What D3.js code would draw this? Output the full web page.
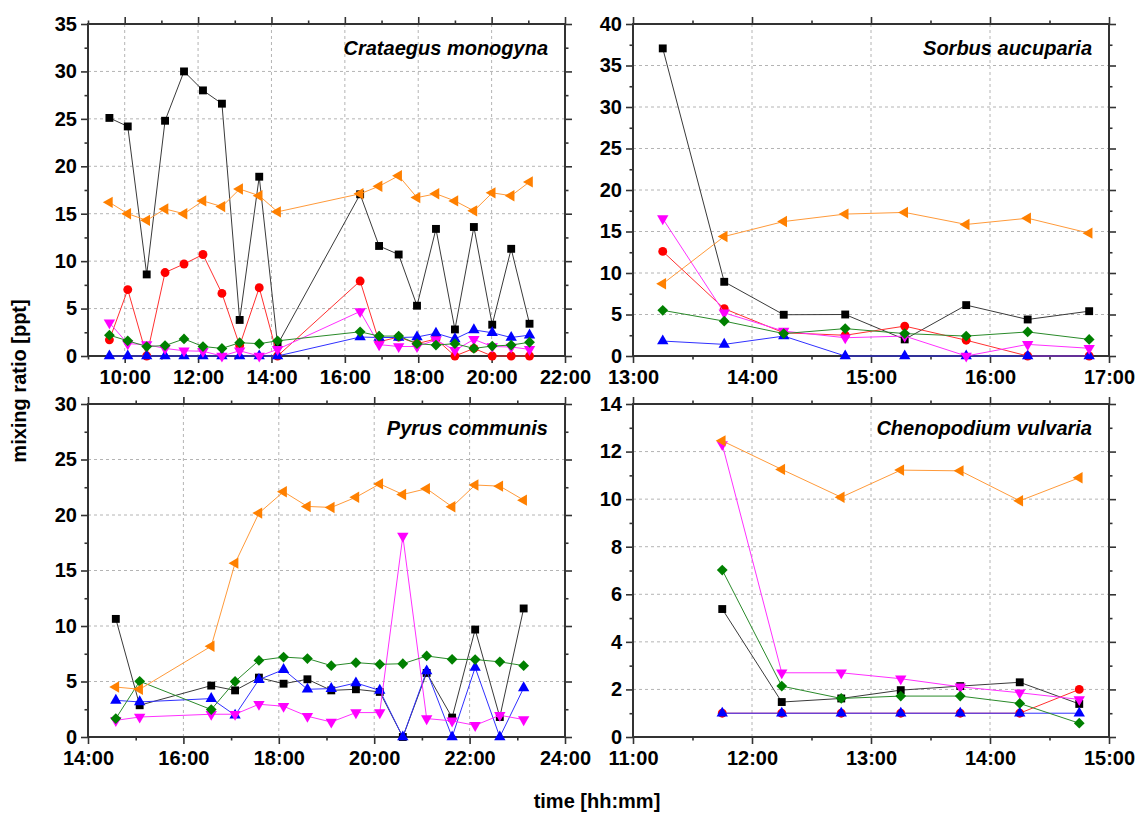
<!DOCTYPE html>
<html>
<head>
<meta charset="utf-8">
<script src="https://cdn.jsdelivr.net/npm/d3@7"></script>
<style>
  body { margin: 0; background: #fff; }
  text { font-family: "Liberation Sans", Arial, sans-serif; font-weight: bold; }
</style>
</head>
<body>
<svg id="chart" width="1135" height="813"></svg>
<script>
// ---- Crataegus monogyna ----
const cmTimes    = ["09:35","10:05","10:36","11:06","11:37","12:08","12:39","13:08","13:40","14:10","16:25","16:56","17:28","17:58","18:29","19:00","19:31","20:01","20:32","21:02"];
const cmSquare   = [25.1,24.2,8.6,24.8,30.0,28.0,26.6,3.8,18.9,1.2,17.05,11.6,10.7,5.3,13.4,2.8,13.6,3.3,11.3,3.4];
const cmCircle   = [1.7,7.0,0,8.8,9.7,10.7,6.6,1.1,7.2,0,7.9,1.5,2.0,1.3,1.8,0,0.8,0,0,0];
const cmTriUp    = [0,0,0,0,0,0,0,0,0,0,2.0,1.95,1.95,2.0,2.4,1.8,2.75,2.45,1.95,2.2];
const cmTriDown  = [3.5,1.3,1.2,0.8,0.55,0.5,0,0.55,0,0.7,4.7,1.2,1.0,1.0,1.7,0.6,1.75,1.0,0.95,0.7];
const cmDiamond  = [2.2,1.6,1.0,1.1,1.8,1.0,0.8,1.4,1.3,1.6,2.55,2.1,2.1,1.3,1.15,1.3,0.8,1.05,1.15,1.45];
const cmTriLeft  = [16.2,15.0,14.3,15.5,15.0,16.35,15.75,17.6,16.9,15.2,17.1,17.9,19.0,16.7,17.1,16.35,15.3,17.2,16.9,18.35];

// ---- Sorbus aucuparia ----
const saTimes    = ["13:15","13:46","14:16","14:47","15:17","15:48","16:19","16:50"];
const saSquare   = [37.06,8.94,4.97,5.0,2.0,6.13,4.4,5.4];
const saCircle   = [12.6,5.7,2.8,2.5,3.6,1.9,0,0];
const saTriUp    = [1.8,1.4,2.4,0,0,0,0,0];
const saTriDown  = [16.55,5.2,3.0,2.2,2.4,0,1.4,0.93];
const saDiamond  = [5.5,4.2,2.7,3.3,2.7,2.4,2.9,2.0];
const saTriLeft  = [8.7,14.4,16.2,17.1,17.3,15.85,16.6,14.8];

// ---- Pyrus communis ----
const pcTimes    = ["14:35","15:05","16:35","17:05","17:35","18:06","18:36","19:06","19:37","20:07","20:36","21:06","21:38","22:07","22:38","23:08"];
const pcSquare   = [10.64,2.86,4.63,4.2,5.35,4.8,5.2,4.2,4.3,4.06,0,5.77,1.75,9.68,1.8,11.58];
const pcTriUp    = [3.3,3.16,3.46,1.96,5.17,6.07,4.3,4.36,4.87,4.2,0,5.95,0,6.26,0,4.42];
const pcTriDown  = [1.5,1.8,2.05,2.05,2.95,2.77,1.87,1.35,2.2,2.2,18.1,1.66,1.45,1.05,1.96,1.57];
const pcDiamond  = [1.66,5.02,2.47,5.0,6.9,7.2,7.07,6.43,6.7,6.55,6.6,7.3,7.0,6.98,6.77,6.43];
const pcTriLeft  = [4.5,4.3,8.18,15.66,20.17,22.1,20.77,20.68,21.6,22.8,21.85,22.37,20.74,22.7,22.6,21.34];

// ---- Chenopodium vulvaria ----
const cvTimes    = ["11:45","12:15","12:45","13:15","13:45","14:15","14:45"];
const cvSquare   = [5.38,1.47,1.62,1.97,2.14,2.3,1.39];
const cvCircle   = [1,1,1,1,1,1,2.0];
const cvTriUp    = [1,1,1,1,1,1,1];
const cvTriDown  = [12.3,2.7,2.7,2.45,2.11,1.86,1.58];
const cvDiamond  = [7.02,2.14,1.62,1.72,1.72,1.41,0.58];
const cvTriLeft  = [12.45,11.25,10.08,11.22,11.19,9.93,10.9];

// Axis ranges (hours on x, ppt on y)
const cmXDomain = [9, 22],  cmYDomain = [0, 35];
const saXDomain = [13, 17], saYDomain = [0, 40];
const pcXDomain = [14, 24], pcYDomain = [0, 30];
const cvXDomain = [11, 15], cvYDomain = [0, 14];

// Marker / line styles per series
const styles = {
  square:   { fill: "#000000", line: "#3a3a3a", symbol: d3.symbolSquare,   size: 62, rotate: 0 },
  circle:   { fill: "#ff0000", line: "#ff3030", symbol: d3.symbolCircle,   size: 62, rotate: 0 },
  triUp:    { fill: "#0000ff", line: "#3030ff", symbol: d3.symbolTriangle, size: 56, rotate: 0 },
  triDown:  { fill: "#ff00ff", line: "#ff30ff", symbol: d3.symbolTriangle, size: 56, rotate: 180 },
  diamond:  { fill: "#008000", line: "#2a8a2a", symbol: d3.symbolSquare,   size: 58, rotate: 45 },
  triLeft:  { fill: "#ff8000", line: "#ff9a3a", symbol: d3.symbolTriangle, size: 56, rotate: -90 }
};

const parseHours = s => { const [h, m] = s.split(":").map(Number); return h + m / 60; };

const panels = [
  { title: "Crataegus monogyna", left: 88,  right: 565,  top: 24,  bottom: 356,
    xDomain: cmXDomain, xMajor: 2, xMinor: 1, xFirstLabel: 10,
    yDomain: cmYDomain, yMajor: 5, yMinor: 2.5, times: cmTimes,
    series: [["square", cmSquare], ["circle", cmCircle], ["triUp", cmTriUp], ["triDown", cmTriDown], ["diamond", cmDiamond], ["triLeft", cmTriLeft]] },
  { title: "Sorbus aucuparia", left: 633, right: 1109, top: 24, bottom: 356,
    xDomain: saXDomain, xMajor: 1, xMinor: 0.5, xFirstLabel: 13,
    yDomain: saYDomain, yMajor: 5, yMinor: 2.5, times: saTimes,
    series: [["square", saSquare], ["circle", saCircle], ["triUp", saTriUp], ["triDown", saTriDown], ["diamond", saDiamond], ["triLeft", saTriLeft]] },
  { title: "Pyrus communis", left: 88, right: 565, top: 404, bottom: 737,
    xDomain: pcXDomain, xMajor: 2, xMinor: 1, xFirstLabel: 14,
    yDomain: pcYDomain, yMajor: 5, yMinor: 2.5, times: pcTimes,
    series: [["square", pcSquare], ["triUp", pcTriUp], ["triDown", pcTriDown], ["diamond", pcDiamond], ["triLeft", pcTriLeft]] },
  { title: "Chenopodium vulvaria", left: 633, right: 1109, top: 404, bottom: 737,
    xDomain: cvXDomain, xMajor: 1, xMinor: 0.5, xFirstLabel: 11,
    yDomain: cvYDomain, yMajor: 2, yMinor: 1, times: cvTimes,
    series: [["square", cvSquare], ["circle", cvCircle], ["triUp", cvTriUp], ["triDown", cvTriDown], ["diamond", cvDiamond], ["triLeft", cvTriLeft]] }
];

const svg = d3.select("#chart");
svg.append("rect").attr("width", 1135).attr("height", 813).attr("fill", "#fff");

const AXIS = "#333";
const FONT = 20;

function stepRange(lo, hi, step) {
  const n = Math.round((hi - lo) / step);
  return d3.range(n + 1).map(i => +(lo + i * step).toFixed(4));
}

function drawPanel(p) {
  const g = svg.append("g");
  const x = d3.scaleLinear().domain(p.xDomain).range([p.left, p.right]);
  const y = d3.scaleLinear().domain(p.yDomain).range([p.bottom, p.top]);

  const xMajorTicks = stepRange(p.xFirstLabel, p.xDomain[1], p.xMajor);
  const xMinorTicks = stepRange(p.xDomain[0], p.xDomain[1], p.xMinor).filter(v => !xMajorTicks.includes(v));
  const yMajorTicks = stepRange(p.yDomain[0], p.yDomain[1], p.yMajor);
  const yMinorTicks = stepRange(p.yDomain[0], p.yDomain[1], p.yMinor).filter(v => !yMajorTicks.includes(v));

  // dashed grid at interior major ticks
  const grid = g.append("g").attr("stroke", "#b4b4b4").attr("stroke-width", 1).attr("stroke-dasharray", "3,3");
  grid.selectAll("line.gx").data(xMajorTicks.filter(v => v > p.xDomain[0] && v < p.xDomain[1]))
    .join("line").attr("x1", d => x(d)).attr("x2", d => x(d)).attr("y1", p.top).attr("y2", p.bottom);
  grid.selectAll("line.gy").data(yMajorTicks.filter(v => v > p.yDomain[0] && v < p.yDomain[1]))
    .join("line").attr("y1", d => y(d)).attr("y2", d => y(d)).attr("x1", p.left).attr("x2", p.right);

  const fmt = v => String(Math.round(v)).padStart(2, "0") + ":00";

  const styleAxis = sel => {
    sel.select(".domain").remove();
    sel.selectAll("line").attr("stroke", AXIS).attr("stroke-width", 1.6);
    sel.selectAll("text").attr("fill", "#000").style("font-size", FONT + "px").style("font-weight", "bold");
  };

  // bottom axis with labels
  g.append("g").attr("transform", `translate(0,${p.bottom})`)
    .call(d3.axisBottom(x).tickValues(xMajorTicks).tickFormat(fmt).tickSize(7).tickPadding(7)).call(styleAxis);
  g.append("g").attr("transform", `translate(0,${p.bottom})`)
    .call(d3.axisBottom(x).tickValues(xMinorTicks).tickFormat("").tickSize(3.5)).call(styleAxis);
  // top axis ticks only
  g.append("g").attr("transform", `translate(0,${p.top})`)
    .call(d3.axisTop(x).tickValues(xMajorTicks).tickFormat("").tickSize(7)).call(styleAxis);
  g.append("g").attr("transform", `translate(0,${p.top})`)
    .call(d3.axisTop(x).tickValues(xMinorTicks).tickFormat("").tickSize(3.5)).call(styleAxis);
  // left axis with labels
  g.append("g").attr("transform", `translate(${p.left},0)`)
    .call(d3.axisLeft(y).tickValues(yMajorTicks).tickFormat(d3.format("d")).tickSize(7).tickPadding(4)).call(styleAxis);
  g.append("g").attr("transform", `translate(${p.left},0)`)
    .call(d3.axisLeft(y).tickValues(yMinorTicks).tickFormat("").tickSize(3.5)).call(styleAxis);
  // right axis ticks only
  g.append("g").attr("transform", `translate(${p.right},0)`)
    .call(d3.axisRight(y).tickValues(yMajorTicks).tickFormat("").tickSize(7)).call(styleAxis);
  g.append("g").attr("transform", `translate(${p.right},0)`)
    .call(d3.axisRight(y).tickValues(yMinorTicks).tickFormat("").tickSize(3.5)).call(styleAxis);

  // frame
  g.append("rect").attr("x", p.left).attr("y", p.top)
    .attr("width", p.right - p.left).attr("height", p.bottom - p.top)
    .attr("fill", "none").attr("stroke", AXIS).attr("stroke-width", 2);

  // series: line then markers
  const hours = p.times.map(parseHours);
  const line = d3.line().x(d => x(d[0])).y(d => y(d[1]));
  p.series.forEach(([key, values]) => {
    const st = styles[key];
    const pts = values.map((v, i) => [hours[i], v]);
    g.append("path").datum(pts).attr("d", line)
      .attr("fill", "none").attr("stroke", st.line).attr("stroke-width", 1);
    const sym = d3.symbol().type(st.symbol).size(st.size);
    g.append("g").selectAll("path").data(pts).join("path")
      .attr("d", sym)
      .attr("transform", d => `translate(${x(d[0])},${y(d[1])}) rotate(${st.rotate})`)
      .attr("fill", st.fill);
  });

  // species title
  g.append("text").attr("x", p.right - 17).attr("y", p.top + 31)
    .attr("text-anchor", "end").style("font-size", FONT + "px").style("font-style", "italic")
    .text(p.title);
}

panels.forEach(drawPanel);

// shared axis titles
svg.append("text").attr("x", 597).attr("y", 808).attr("text-anchor", "middle")
  .style("font-size", FONT + "px").text("time [hh:mm]");
svg.append("text").attr("transform", "translate(26,381) rotate(-90)").attr("text-anchor", "middle")
  .style("font-size", FONT + "px").text("mixing ratio [ppt]");
</script>
</body>
</html>
